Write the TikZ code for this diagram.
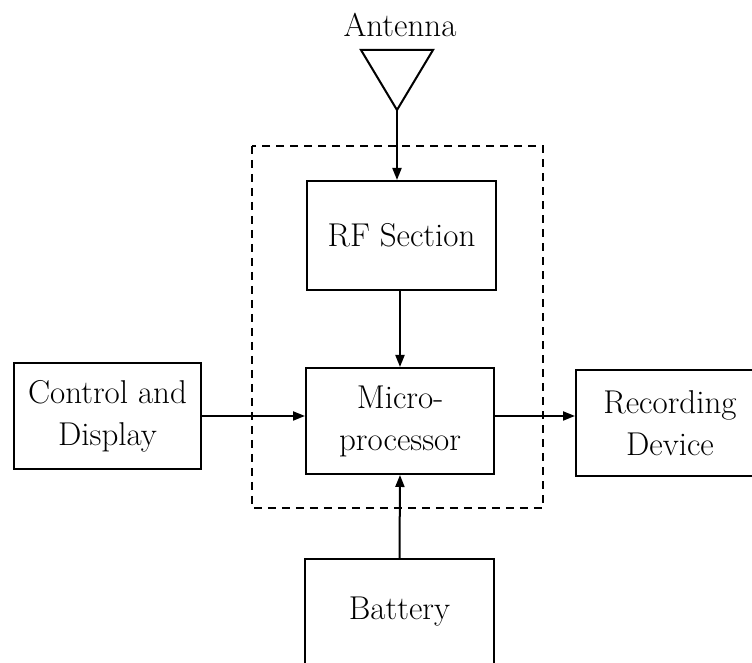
\documentclass[tikz,border=0pt]{standalone}
\usetikzlibrary{arrows.meta}

\begin{document}
\begin{tikzpicture}[x=0.5pt,y=0.5pt,
    blk/.style ={draw=black,line width=1pt,inner sep=0pt,align=center,
                 font=\fontsize{16.5}{21}\selectfont},
    arr/.style ={line width=1pt,-{Triangle[length=6pt,width=4.5pt]}},
    grp/.style ={line width=0.75pt,dash pattern=on 4pt off 3pt},
  ]

% fixed bounding box, boxes at the right and bottom run off the page
\useasboundingbox (0,0) rectangle (752,663);
\clip (0,0) rectangle (752,663);

% ---- antenna ---------------------------------------------------------------
\node[font=\fontsize{16.5}{21}\selectfont,inner sep=0pt] (antlbl) at (400,638) {Antenna};
\draw[line width=1pt] (361,613) -- (433,613) -- (397,553) -- cycle;
\coordinate (antapex) at (397,553);

% ---- receiver group --------------------------------------------------------
\draw[grp] (252,517) rectangle (543,155);

\node[blk,minimum width=94.5pt,minimum height=54.5pt] (rf)    at (401.5,427.5) {RF Section};
\node[blk,minimum width=94pt,minimum height=53pt]     (micro) at (400,242)     {Micro-\\processor};

% ---- outside blocks --------------------------------------------------------
\node[blk,minimum width=93.5pt,minimum height=53pt] (ctrl) at (107.5,247) {Control and\\Display};
\node[blk,minimum width=94pt,minimum height=53pt]   (rec)  at (670,240)   {Recording\\Device};
\node[blk,minimum width=94.5pt,minimum height=53pt] (batt) at (399.5,51)  {Battery};

% ---- connections -----------------------------------------------------------
\draw[arr] (antapex) -- (antapex |- rf.north);
\draw[arr] (rf.south -| micro.north) -- (micro.north);
\draw[arr] (ctrl.east) -- (ctrl.east -| micro.west);
\draw[arr] (micro.east |- ctrl.east) -- (micro.east |- ctrl.east -| rec.west);
\draw[arr] (batt.north) -- (micro.south);

\end{tikzpicture}
\end{document}
